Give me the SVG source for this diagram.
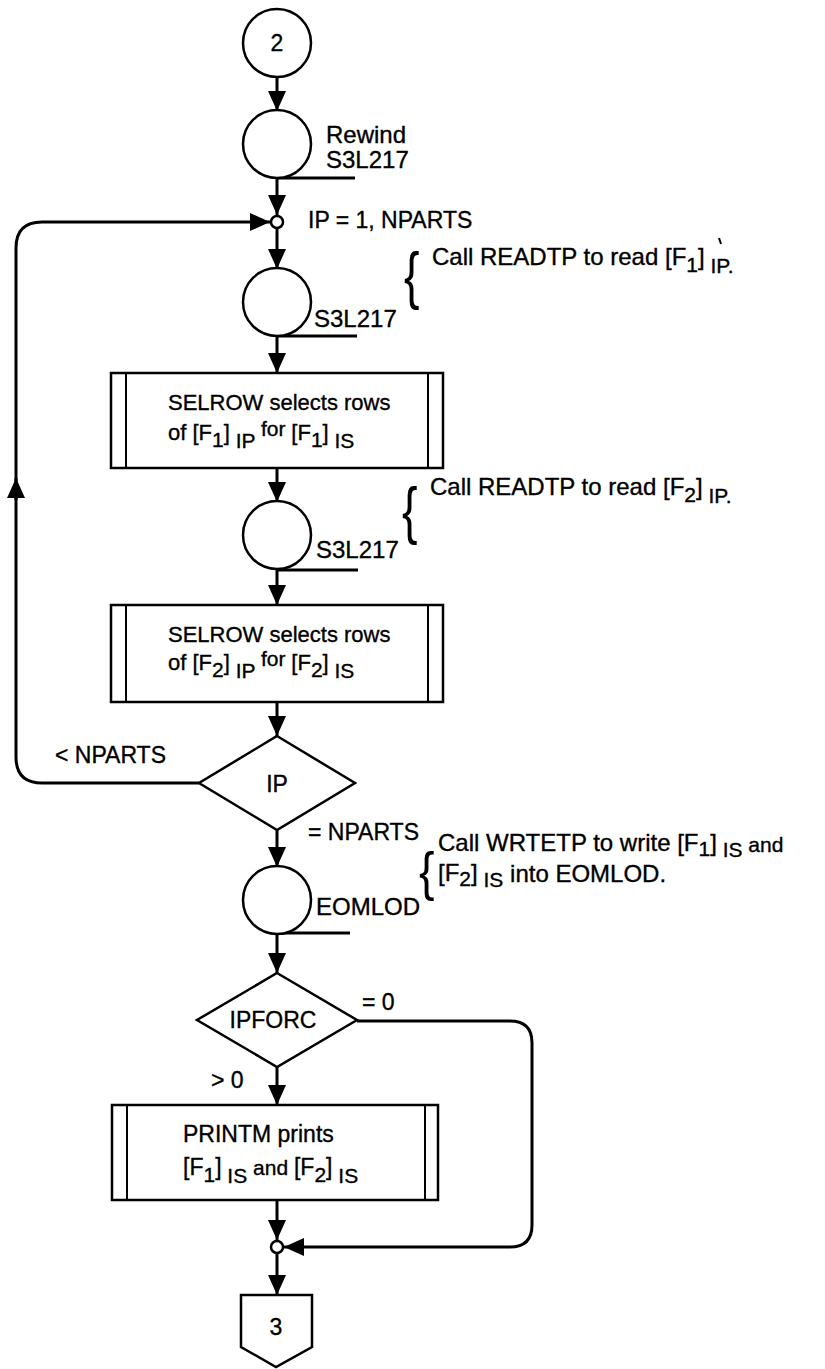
<svg xmlns="http://www.w3.org/2000/svg" width="825" height="1369" viewBox="0 0 825 1369">
<style>
.ln{stroke:#000;stroke-width:3;fill:none}
.sh{stroke:#000;stroke-width:2.5;fill:#fff}
.thin{stroke:#000;stroke-width:2;fill:none}
text{font-family:"Liberation Sans",Arial,sans-serif;font-size:23px;fill:#000;stroke:#000;stroke-width:0.35}
.box{font-size:22px}
.ann{font-size:24px}
.lbl{font-size:24px}
.sub{font-size:21px}
.brace{font-family:"Liberation Sans",Arial,sans-serif;font-size:62px;stroke-width:0}
</style>
<defs>
<marker id="ah" markerUnits="userSpaceOnUse" markerWidth="20" markerHeight="20" viewBox="0 0 20 20" refX="20" refY="10" orient="auto">
<path d="M0,1 L20,10 L0,19 z" fill="#000"/>
</marker>
</defs>
<rect width="825" height="1369" fill="#fff"/>

<g id="connectors">
<path class="ln" d="M277,76 V111" marker-end="url(#ah)"/>
<path class="ln" d="M277,178 V215" marker-end="url(#ah)"/>
<path class="ln" d="M277,228 V269" marker-end="url(#ah)"/>
<path class="ln" d="M277,336 V373" marker-end="url(#ah)"/>
<path class="ln" d="M277,468 V502" marker-end="url(#ah)"/>
<path class="ln" d="M277,570 V605" marker-end="url(#ah)"/>
<path class="ln" d="M277,702 V736" marker-end="url(#ah)"/>
<path class="ln" d="M277,830 V867" marker-end="url(#ah)"/>
<path class="ln" d="M277,933 V973" marker-end="url(#ah)"/>
<path class="ln" d="M277,1067 V1105" marker-end="url(#ah)"/>
<path class="ln" d="M277,1200 V1240" marker-end="url(#ah)"/>
<path class="ln" d="M277,1254 V1295" marker-end="url(#ah)"/>
<path class="ln" d="M199,783 H42 Q16,783 16,757 V248 Q16,222 42,222 H270" marker-end="url(#ah)"/>
<path class="ln" d="M16,500 V478" marker-end="url(#ah)"/>
<path class="ln" d="M357,1021 H510 Q532,1021 532,1043 V1225 Q532,1247 510,1247 H284" marker-end="url(#ah)"/>
<path class="ln" d="M277,178 H355"/>
<path class="ln" d="M277,336 H357"/>
<path class="ln" d="M277,570 H358"/>
<path class="ln" d="M277,933 H350"/>
</g>

<g id="n_start">
<circle class="sh" cx="277" cy="43" r="34"/>
<text x="277" y="51" text-anchor="middle">2</text>
</g>

<g id="n_rewind">
<circle class="sh" cx="277" cy="144" r="34"/>
<text class="lbl" x="326" y="143">Rewind</text>
<text class="lbl" x="326" y="168">S3L217</text>
</g>

<g id="n_loop">
<circle class="sh" cx="277" cy="222" r="6" stroke-width="3"/>
<text x="308" y="228">IP = 1, NPARTS</text>
</g>

<g id="n_read1">
<circle class="sh" cx="277" cy="302" r="34"/>
<text class="lbl" x="314" y="327">S3L217</text>
<text class="brace" transform="translate(404,297) scale(0.75,1)">{</text>
<text class="ann" x="432" y="265">Call READTP to read [F<tspan class="sub" dy="7">1</tspan><tspan dy="-7">]</tspan><tspan class="sub" dy="8"> IP.</tspan></text>
<path class="thin" d="M719,238 L721,244" stroke-width="1.5"/>
</g>

<g id="n_selrow1">
<rect class="sh" x="111" y="373" width="332" height="95"/>
<path class="thin" d="M126,373 V468 M428,373 V468"/>
<text class="box" x="168" y="410">SELROW selects rows</text>
<text class="box" x="168" y="440">of [F<tspan class="sub" dy="7">1</tspan><tspan dy="-7">]</tspan><tspan class="sub" dy="8"> IP</tspan><tspan class="sub" dy="-12"> for </tspan><tspan dy="4">[F</tspan><tspan class="sub" dy="7">1</tspan><tspan dy="-7">]</tspan><tspan class="sub" dy="8"> IS</tspan></text>
</g>

<g id="n_read2">
<circle class="sh" cx="277" cy="535" r="34"/>
<text class="lbl" x="316" y="558">S3L217</text>
<text class="brace" transform="translate(402,532) scale(0.75,1)">{</text>
<text class="ann" x="430" y="495">Call READTP to read [F<tspan class="sub" dy="7">2</tspan><tspan dy="-7">]</tspan><tspan class="sub" dy="8"> IP.</tspan></text>
</g>

<g id="n_selrow2">
<rect class="sh" x="111" y="605" width="332" height="97"/>
<path class="thin" d="M126,605 V702 M428,605 V702"/>
<text class="box" x="168" y="642">SELROW selects rows</text>
<text class="box" x="168" y="670">of [F<tspan class="sub" dy="7">2</tspan><tspan dy="-7">]</tspan><tspan class="sub" dy="8"> IP</tspan><tspan class="sub" dy="-12"> for </tspan><tspan dy="4">[F</tspan><tspan class="sub" dy="7">2</tspan><tspan dy="-7">]</tspan><tspan class="sub" dy="8"> IS</tspan></text>
</g>

<g id="n_ip">
<path class="sh" d="M277,736 L355,783 L277,830 L199,783 Z"/>
<text x="277" y="792" text-anchor="middle">IP</text>
<text x="55" y="763">&lt; NPARTS</text>
<text x="308" y="840">= NPARTS</text>
</g>

<g id="n_eomlod">
<circle class="sh" cx="277" cy="900" r="34"/>
<text class="lbl" x="316" y="915">EOMLOD</text>
<text class="brace" transform="translate(419,890) scale(0.75,0.88)">{</text>
<text class="ann" x="438" y="851">Call WRTETP to write [F<tspan class="sub" dy="5">1</tspan><tspan dy="-5">]</tspan><tspan class="sub" dy="6"> IS</tspan><tspan class="sub" dy="-5"> and</tspan></text>
<text class="ann" x="438" y="881">[F<tspan class="sub" dy="5">2</tspan><tspan dy="-5">]</tspan><tspan class="sub" dy="6"> IS</tspan><tspan dy="-5"> into EOMLOD.</tspan></text>
</g>

<g id="n_ipforc">
<path class="sh" d="M277,973 L357,1020 L277,1067 L197,1020 Z"/>
<text x="273" y="1028" text-anchor="middle">IPFORC</text>
<text x="362" y="1010">= 0</text>
<text x="211" y="1088">&gt; 0</text>
</g>

<g id="n_printm">
<rect class="sh" x="112" y="1105" width="326" height="95"/>
<path class="thin" d="M127,1105 V1200 M425,1105 V1200"/>
<text x="183" y="1142">PRINTM prints</text>
<text x="183" y="1175">[F<tspan class="sub" dy="7">1</tspan><tspan dy="-7">]</tspan><tspan class="sub" dy="8"> IS</tspan><tspan class="sub" dy="-8"> and </tspan>[F<tspan class="sub" dy="7">2</tspan><tspan dy="-7">]</tspan><tspan class="sub" dy="8"> IS</tspan></text>
</g>

<g id="n_join">
<circle class="sh" cx="277" cy="1247" r="6" stroke-width="3"/>
</g>

<g id="n_end">
<path class="sh" d="M241,1295 H312 V1347 L276,1367 L241,1347 Z"/>
<text x="276" y="1335" text-anchor="middle">3</text>
</g>
</svg>
